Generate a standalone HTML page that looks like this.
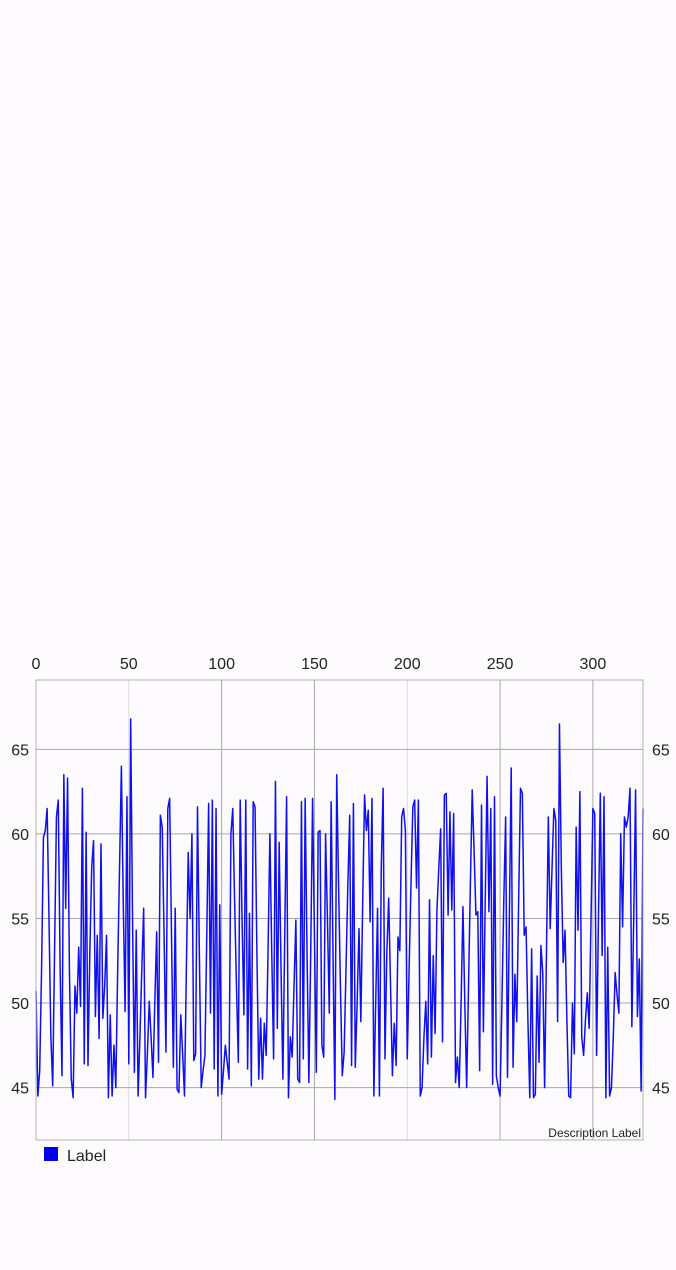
<!DOCTYPE html>
<html><head><meta charset="utf-8"><style>
html,body{margin:0;padding:0;background:#fefbff;}
body{width:676px;height:1265px;overflow:hidden;font-family:"Liberation Sans",sans-serif;}
</style></head><body>
<svg id="chart" width="676" height="1265" xmlns="http://www.w3.org/2000/svg">
<g id="grid"></g>
<g id="xlabels"></g>
<g id="ylabels"></g>
<path id="series" fill="none" stroke="#1010ee" stroke-width="1.5" stroke-linejoin="round"></path>
<rect x="36" y="680" width="607" height="460" fill="none" stroke="#b0b0b0" stroke-width="1"></rect>
<text x="641" y="1137" text-anchor="end" font-size="12" fill="#222">Description Label</text>
<rect x="44" y="1147" width="14" height="14" fill="#0000ee"></rect>
<text x="67" y="1161" font-size="16" fill="#222">Label</text>
</svg>
<script>
const values=[50.7,44.5,46,52,59.8,60.2,61.5,55,48,45.1,53,61,62,52,45.7,63.5,55.6,63.3,52,45.5,44.4,51,49.4,53.3,49.8,62.7,46.4,60.1,46.3,53,58,59.6,49.2,54,47.9,59.4,49.1,51,54,44.4,49.3,44.5,47.5,45,52,58,64,56,49.5,62.2,46.4,66.8,55,45.9,54.3,44.5,48,52,55.6,44.4,47,50.1,48,45.6,50,54.2,46.5,61.1,60.4,54,47.1,61.5,62.1,54,46.2,55.6,44.9,44.7,49.3,47,44.5,52,58.9,55,60,46.6,47,61.6,53,45,46,46.9,54,61.8,49.4,62,46.1,61.5,44.5,55.8,44.6,46,47.5,46.5,45.5,60,61.5,56,51,46.5,62,55,49.3,62,46.1,55.3,45.1,61.9,61.6,53,45.5,49.1,45.5,48.8,46.9,53,60,53,46.7,63.1,48.5,59.5,52,45.5,54,62.2,44.4,48,46.8,51,54.9,45.5,45.3,61.9,46.7,62.1,53,45.3,53,62.1,54,45.9,60.1,60.2,47.5,46.8,60,55,49.4,61.9,53,44.3,63.5,57,51,45.7,47.1,52,57,61.1,46.3,61.8,46.2,50,54.4,48.9,56,62.3,60.2,61.4,54.8,62.1,44.5,50,55.6,44.5,58,62.7,46.7,53,56.2,51,45.7,48.8,46.3,53.9,53.1,61,61.5,60.2,46.7,52,57,61.6,62,56.8,62,44.5,45,48,50.1,46.4,56.1,46.8,52.8,48.2,55.5,58,60.3,47.7,62.3,62.4,55.2,61.3,55.5,61.2,45.3,46.8,45,50,55.7,50,45,51,57,62.6,59,55.2,55.4,46,61.7,48.3,56,63.4,55.4,61.5,45.2,62.2,45.7,45,44.5,50,56,61,45.6,55,63.9,46.2,51.7,48.9,56,62.7,62.4,54,54.5,49,44.4,53.2,44.4,44.6,51.6,46.5,53.4,51.8,45,53,61,54.4,58,61.5,60.8,48.9,66.5,58,52.4,54.3,49,44.5,44.4,50,47,60.4,54.3,62.5,48,46.9,49,50.6,48.5,55,61.5,61.2,46.9,55,62.4,52.8,62.2,44.4,53.3,44.5,45,48,51.8,50.5,49.4,60,54.5,61,60.4,61,62.7,48.6,55,62.6,49.2,52.6,44.8,61.5];
const xTicks=[0,50,100,150,200,250,300];
const yTicks=[45,50,55,60,65];
const X0=36,X1=643,Y0=680,Y1=1140,XMIN=0,XMAX=327,YMIN=41.9,YMAX=69.1;
const NS='http://www.w3.org/2000/svg';
function xs(v){return X0+(v-XMIN)/(XMAX-XMIN)*(X1-X0);}
function ys(v){return Y1-(v-YMIN)/(YMAX-YMIN)*(Y1-Y0);}
const grid=document.getElementById('grid'),xl=document.getElementById('xlabels'),yl=document.getElementById('ylabels');
xTicks.forEach(t=>{
 const l=document.createElementNS(NS,'line');
 
 
 const x=xs(t);l.setAttribute('x1',x);l.setAttribute('x2',x);l.setAttribute('y1',Y0);l.setAttribute('y2',Y1);
 l.setAttribute('stroke',(t===50||t===200)?'#dcdcdc':'#a8a8a8');l.setAttribute('stroke-width','1');grid.appendChild(l);
 const tx=document.createElementNS(NS,'text');
 
 
 tx.setAttribute('x',x);tx.setAttribute('y',669);tx.setAttribute('text-anchor','middle');tx.setAttribute('font-size','16');tx.setAttribute('fill','#222');tx.textContent=t;xl.appendChild(tx);
});
yTicks.forEach(t=>{
 const y=ys(t);
 const l=document.createElementNS(NS,'line');
 
 
 l.setAttribute('x1',X0);l.setAttribute('x2',X1);l.setAttribute('y1',y);l.setAttribute('y2',y);l.setAttribute('stroke','#a8a8a8');l.setAttribute('stroke-width','1');grid.appendChild(l);
 const a=document.createElementNS(NS,'text');
 
 
 a.setAttribute('x',29);a.setAttribute('y',y+6);a.setAttribute('text-anchor','end');a.setAttribute('font-size','16');a.setAttribute('fill','#222');a.textContent=t;yl.appendChild(a);
 const b=document.createElementNS(NS,'text');
 
 
 b.setAttribute('x',652);b.setAttribute('y',y+6);b.setAttribute('font-size','16');b.setAttribute('fill','#222');b.textContent=t;yl.appendChild(b);
});
document.getElementById('series').setAttribute('d',values.map((v,i)=>(i?'L':'M')+xs(i).toFixed(2)+' '+ys(v).toFixed(2)).join(''));
</script>
</body></html>
